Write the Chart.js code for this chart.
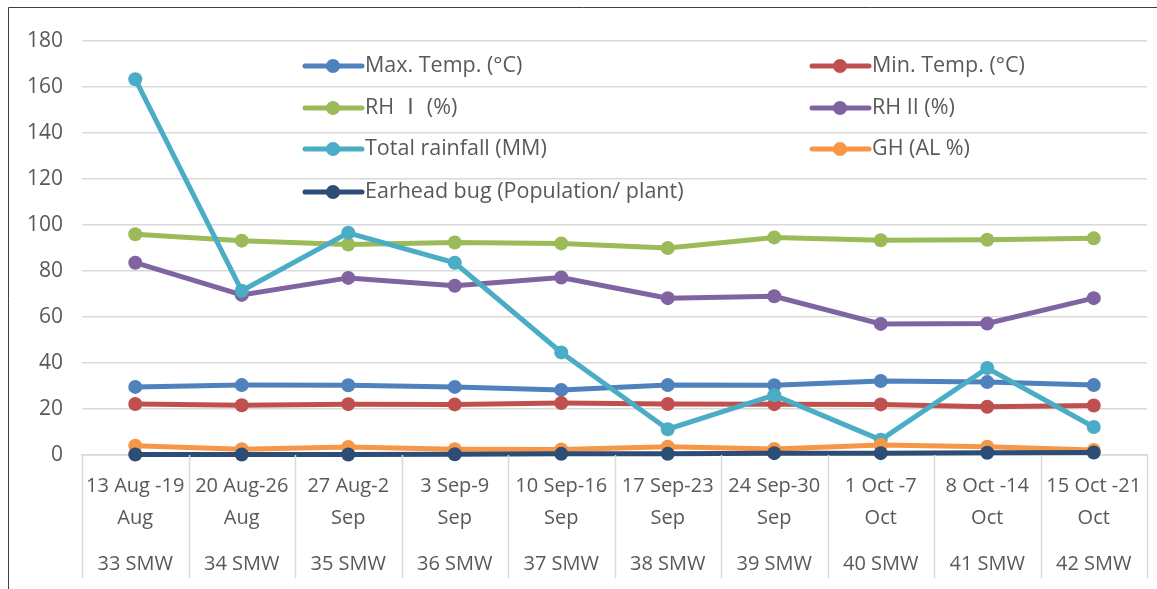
<!DOCTYPE html>
<html>
<head>
<meta charset="utf-8">
<script src="https://cdn.jsdelivr.net/npm/chart.js@4.4.1/dist/chart.umd.min.js"></script>
<style>
  html, body { margin: 0; padding: 0; background: #fff; }
  #wrap { position: relative; width: 1157px; height: 589px; }
</style>
</head>
<body>
<div id="wrap"><canvas id="weatherChart" width="1157" height="589"></canvas></div>
<script>
// week labels (two lines each) and the standard meteorological week row
const weeks = [
    ['13 Aug -19', 'Aug'], ['20 Aug-26', 'Aug'], ['27 Aug-2', 'Sep'], ['3 Sep-9', 'Sep'],
    ['10 Sep-16', 'Sep'], ['17 Sep-23', 'Sep'], ['24 Sep-30', 'Sep'], ['1 Oct -7', 'Oct'],
    ['8 Oct -14', 'Oct'], ['15 Oct -21', 'Oct']
];
const smw = ['33 SMW', '34 SMW', '35 SMW', '36 SMW', '37 SMW', '38 SMW', '39 SMW', '40 SMW', '41 SMW', '42 SMW'];

const maxTemp  = [29.6, 30.4, 30.3, 29.6, 28.3, 30.4, 30.3, 32.2, 31.7, 30.4];
const minTemp  = [22.2, 21.6, 22.1, 22.0, 22.6, 22.2, 22.1, 22.0, 21.0, 21.5];
const rh1      = [96.0, 93.2, 91.5, 92.4, 92.0, 90.0, 94.6, 93.4, 93.6, 94.2];
const rh2      = [83.6, 69.6, 77.0, 73.6, 77.2, 68.2, 69.0, 57.0, 57.2, 68.2];
const rainfall = [163.4, 71.4, 96.6, 83.6, 44.6, 11.2, 26.0, 6.6, 37.8, 12.2];
const gh       = [4.0, 2.5, 3.5, 2.5, 2.4, 3.6, 2.6, 4.4, 3.6, 2.2];
const earhead  = [0.2, 0.2, 0.2, 0.3, 0.5, 0.5, 0.8, 0.8, 1.0, 1.1];

const seriesNames = ['Max. Temp. (\u00B0C)', 'Min. Temp. (\u00B0C)', 'RH \u2160 (%)', 'RH II (%)',
    'Total rainfall (MM)', 'GH (AL %)', 'Earhead bug (Population/ plant)'];
const seriesData = [maxTemp, minTemp, rh1, rh2, rainfall, gh, earhead];
const colors = ['#4F81BD', '#C0504D', '#9BBB59', '#8064A2', '#4BACC6', '#F79646', '#2C4D75'];

const textColor = '#595959';
const fontFamily = '"Open Sans", "Noto Sans CJK SC", sans-serif';

// legend laid out in two columns inside the plot, like the original
const legendPlugin = {
    id: 'twoColLegend',
    afterDraw(chart) {
        const ctx = chart.ctx;
        const colX = [305, 812];
        const rowY = [66, 108, 149, 192];
        chart.data.datasets.forEach((ds, i) => {
            const x = colX[i % 2];
            const y = rowY[Math.floor(i / 2)];
            ctx.save();
            ctx.strokeStyle = ds.borderColor;
            ctx.lineWidth = 5;
            ctx.lineCap = 'round';
            ctx.beginPath();
            ctx.moveTo(x, y);
            ctx.lineTo(x + 57, y);
            ctx.stroke();
            ctx.fillStyle = ds.borderColor;
            ctx.beginPath();
            ctx.arc(x + 28, y, 7, 0, Math.PI * 2);
            ctx.fill();
            ctx.fillStyle = textColor;
            ctx.font = '21.5px ' + fontFamily;
            ctx.textBaseline = 'middle';
            ctx.fillText(ds.label, x + 60, y);
            ctx.restore();
        });
    }
};

// vertical separators between the category labels, and the outer frame
const separatorPlugin = {
    id: 'separators',
    afterDraw(chart) {
        const ctx = chart.ctx;
        const xs = chart.scales.x;
        const area = chart.chartArea;
        const step = xs.getPixelForValue(1) - xs.getPixelForValue(0);
        ctx.save();
        ctx.strokeStyle = '#d9d9d9';
        ctx.lineWidth = 1.5;
        for (let i = 0; i <= weeks.length; i++) {
            const x = Math.round(xs.getPixelForValue(i) - step / 2) + 0.5;
            ctx.beginPath();
            ctx.moveTo(x, area.bottom);
            ctx.lineTo(x, 578);
            ctx.stroke();
        }
        ctx.strokeStyle = '#404040';
        ctx.lineWidth = 1;
        ctx.beginPath();
        ctx.moveTo(8.5, 600);
        ctx.lineTo(8.5, 7.5);
        ctx.lineTo(1160, 7.5);
        ctx.stroke();
        ctx.restore();
    }
};

window.onload = function() {
    new Chart(document.getElementById('weatherChart'), {
        type: 'line',
        data: {
            labels: weeks,
            datasets: seriesNames.map((name, i) => ({
                label: name,
                data: seriesData[i],
                borderColor: colors[i],
                backgroundColor: colors[i],
                borderWidth: 5,
                pointRadius: 7,
                pointHoverRadius: 7,
                pointBorderWidth: 0,
                tension: 0,
                clip: 10,
                order: seriesNames.length - i
            }))
        },
        options: {
            responsive: false,
            animation: false,
            layout: { padding: { top: 41, right: 10, bottom: 11, left: 0 } },
            plugins: {
                legend: { display: false },
                tooltip: { enabled: false }
            },
            scales: {
                y: {
                    min: 0,
                    max: 180,
                    ticks: { stepSize: 20, color: textColor, padding: 19, font: { family: fontFamily, size: 21 } },
                    grid: { color: '#d9d9d9', lineWidth: 1.5, drawTicks: false },
                    border: { display: false },
                    afterFit(scale) { scale.width = 82; }
                },
                x: {
                    offset: true,
                    ticks: { color: textColor, padding: 15, maxRotation: 0, autoSkip: false,
                        font: { family: fontFamily, size: 20, lineHeight: 1.6 } },
                    grid: { display: false, drawTicks: false },
                    border: { display: true, color: '#d9d9d9', width: 1.5 },
                    afterFit(scale) { scale.height = 78; }
                },
                x2: {
                    type: 'category',
                    position: 'bottom',
                    labels: smw,
                    offset: true,
                    ticks: { color: textColor, padding: 15, maxRotation: 0, autoSkip: false,
                        font: { family: fontFamily, size: 20, lineHeight: 1.6 } },
                    grid: { display: false, drawTicks: false },
                    border: { display: false },
                    afterFit(scale) { scale.height = 45; }
                }
            }
        },
        plugins: [legendPlugin, separatorPlugin]
    });
};
</script>
</body>
</html>
